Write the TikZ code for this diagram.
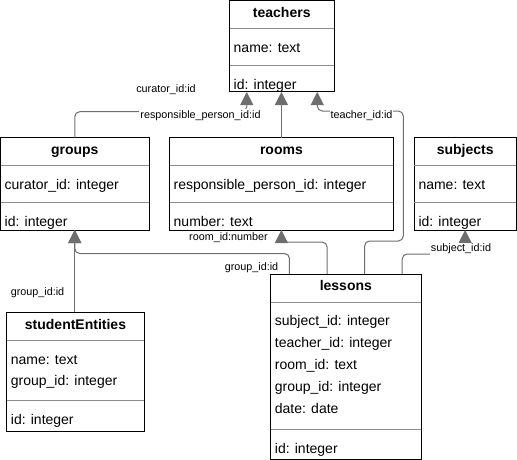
\documentclass[tikz,border=0pt]{standalone}
\usepackage{fontspec}
\setmainfont{Liberation Sans}
\usetikzlibrary{calc,arrows.meta}
\definecolor{conncol}{HTML}{6E6E6E}
\definecolor{sepcol}{HTML}{8C8C8C}
\begin{document}
\begin{tikzpicture}[x=1pt,y=-1pt,
  tbl/.style={draw=black, line width=1pt, anchor=north west, inner sep=0pt, outer sep=0pt},
  ttl/.style={anchor=base, inner sep=0pt, font=\fontsize{14}{16}\selectfont\bfseries},
  row/.style={anchor=base west, inner sep=0pt, font=\fontsize{14}{16}\selectfont},
  sepline/.style={draw=sepcol, line width=1pt},
  conn/.style={draw=conncol, line width=1pt, rounded corners=5pt, -{Triangle[length=13pt,width=13pt]}},
  lbl/.style={font=\fontsize{10.8}{12}\selectfont, fill=white, inner sep=1pt},
]
\useasboundingbox (0,0) rectangle (517,460);

% ---------- teachers ----------
\node[tbl, minimum width=104.5pt, minimum height=91pt] (teachers) at (229.5,1) {};
\node[ttl] (teachersT) at ($(teachers.north)+(0,16.5)$) {teachers};
\draw[sepline] ($(teachers.north west)+(0,27.3)$) -- ($(teachers.north east)+(0,27.3)$);
\node[row] (teachersA) at ($(teachers.north west)+(4,51.3)$) {name: text};
\draw[sepline] ($(teachers.north west)+(0,64.3)$) -- ($(teachers.north east)+(0,64.3)$);
\node[row] (teachersB) at ($(teachers.north west)+(4,88.3)$) {id: integer};

% ---------- groups ----------
\node[tbl, minimum width=148.5pt, minimum height=92.5pt] (groups) at (0.5,137.5) {};
\node[ttl] (groupsT) at ($(groups.north)+(0,16.5)$) {groups};
\draw[sepline] ($(groups.north west)+(0,28)$) -- ($(groups.north east)+(0,28)$);
\node[row] (groupsA) at ($(groups.north west)+(4,51.8)$) {curator\_id: integer};
\draw[sepline] ($(groups.north west)+(0,64.8)$) -- ($(groups.north east)+(0,64.8)$);
\node[row] (groupsB) at ($(groups.north west)+(4,88.5)$) {id: integer};

% ---------- rooms ----------
\node[tbl, minimum width=223.8pt, minimum height=92.5pt] (rooms) at (169.5,137.5) {};
\node[ttl] (roomsT) at ($(rooms.north)+(0,16.5)$) {rooms};
\draw[sepline] ($(rooms.north west)+(0,28)$) -- ($(rooms.north east)+(0,28)$);
\node[row] (roomsA) at ($(rooms.north west)+(4,51.8)$) {responsible\_person\_id: integer};
\draw[sepline] ($(rooms.north west)+(0,64.8)$) -- ($(rooms.north east)+(0,64.8)$);
\node[row] (roomsB) at ($(rooms.north west)+(4,88.5)$) {number: text};

% ---------- subjects ----------
\node[tbl, minimum width=101.7pt, minimum height=92.5pt] (subjects) at (414.3,137.5) {};
\node[ttl] (subjectsT) at ($(subjects.north)+(0,16.5)$) {subjects};
\draw[sepline] ($(subjects.north west)+(0,28)$) -- ($(subjects.north east)+(0,28)$);
\node[row] (subjectsA) at ($(subjects.north west)+(4,51.8)$) {name: text};
\draw[sepline] ($(subjects.north west)+(0,64.8)$) -- ($(subjects.north east)+(0,64.8)$);
\node[row] (subjectsB) at ($(subjects.north west)+(4,88.5)$) {id: integer};

% ---------- lessons ----------
\node[tbl, minimum width=150.3pt, minimum height=185.3pt] (lessons) at (270.7,274) {};
\node[ttl] (lessonsT) at ($(lessons.north)+(0,16.7)$) {lessons};
\draw[sepline] ($(lessons.north west)+(0,28.3)$) -- ($(lessons.north east)+(0,28.3)$);
\node[row] (lessonsA) at ($(lessons.north west)+(4,51.7)$) {subject\_id: integer};
\node[row] (lessonsB) at ($(lessons.north west)+(4,73.5)$) {teacher\_id: integer};
\node[row] (lessonsC) at ($(lessons.north west)+(4,95.8)$) {room\_id: text};
\node[row] (lessonsD) at ($(lessons.north west)+(4,117.7)$) {group\_id: integer};
\node[row] (lessonsE) at ($(lessons.north west)+(4,139.8)$) {date: date};
\draw[sepline] ($(lessons.north west)+(0,155.3)$) -- ($(lessons.north east)+(0,155.3)$);
\node[row] (lessonsF) at ($(lessons.north west)+(4,179.3)$) {id: integer};

% ---------- studentEntities ----------
\node[tbl, minimum width=137.6pt, minimum height=119pt] (students) at (6.7,312.3) {};
\node[ttl] (studentsT) at ($(students.north)+(0,17)$) {studentEntities};
\draw[sepline] ($(students.north west)+(0,28)$) -- ($(students.north east)+(0,28)$);
\node[row] (studentsA) at ($(students.north west)+(4,51.7)$) {name: text};
\node[row] (studentsB) at ($(students.north west)+(4,73.5)$) {group\_id: integer};
\draw[sepline] ($(students.north west)+(0,88)$) -- ($(students.north east)+(0,88)$);
\node[row] (studentsC) at ($(students.north west)+(4,112)$) {id: integer};

% ---------- ports ----------
\coordinate (tA) at ($(teachers.south)+(-35,0)$);
\coordinate (tB) at ($(teachers.south)+(35.5,0)$);
\coordinate (l1) at ($(lessons.north west)!0.125!(lessons.north east)$);
\coordinate (l2) at ($(lessons.north west)!0.375!(lessons.north east)$);
\coordinate (l3) at ($(lessons.north west)!0.625!(lessons.north east)$);
\coordinate (l4) at ($(lessons.north west)!0.875!(lessons.north east)$);

% ---------- connectors ----------
\draw[conn] (groups.north) -- ++(0,-25.8) -| (tA);
\draw[conn] (rooms.north) -- (rooms.north |- teachers.south);
\draw[conn] (l3) |- (403.3,241) -- (403.3,111) -| (tB);
\draw[conn] (l2) -- ++(0,-32) [sharp corners] -| (rooms.south);
\draw[conn] (l1) -- ++(0,-20.5) -| (groups.south);
\draw[conn] (l4) -- ++(0,-20) -| (subjects.south);
\draw[conn] (groups.south |- students.north) -- (groups.south);

% ---------- labels ----------
\node[lbl] (lcur) at (166,89.5) {curator\_id:id};
\node[lbl] (lresp) at (200.5,115.5) {responsible\_person\_id:id};
\node[lbl] (lteach) at (361.5,115.5) {teacher\_id:id};
\node[lbl] (lroom) at (228.5,237.3) {room\_id:number};
\node[lbl] (lgrp) at (251.5,268) {group\_id:id};
\node[lbl] (lsubj) at (461,249) {subject\_id:id};
\node[lbl] (lstud) at (37.5,293) {group\_id:id};
\end{tikzpicture}
\end{document}
